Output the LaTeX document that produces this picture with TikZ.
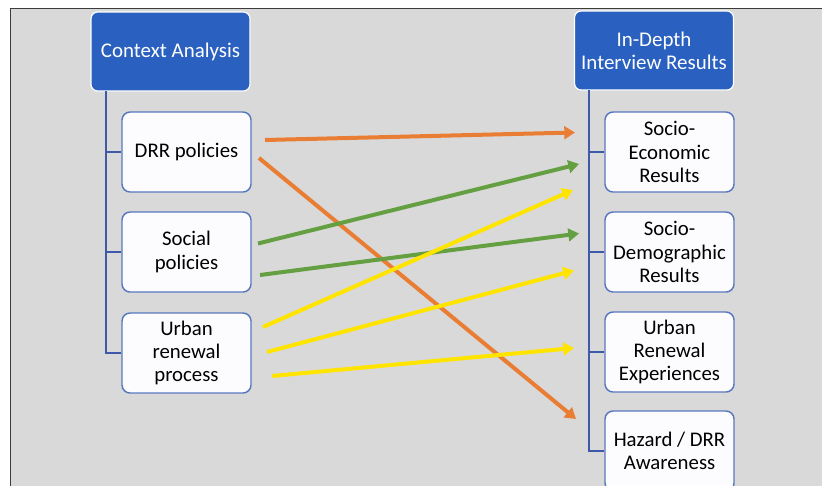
\documentclass[tikz,border=0pt]{standalone}
\usepackage{fontspec}
\setmainfont{Carlito}
\usetikzlibrary{arrows.meta}
\definecolor{bgray}{RGB}{217,217,217}
\definecolor{frame}{RGB}{60,60,60}
\definecolor{hblue}{RGB}{42,96,192}
\definecolor{bline}{RGB}{62,88,170}
\definecolor{bborder}{RGB}{88,120,190}
\definecolor{boxfill}{RGB}{252,252,254}
\definecolor{aorange}{RGB}{234,125,52}
\definecolor{agreen}{RGB}{100,160,66}
\definecolor{ayellow}{RGB}{255,228,0}
\tikzset{
  headbox/.style={draw=white, line width=0.9pt, fill=hblue, rounded corners=5pt,
    text=white, align=center, minimum width=119.25pt, minimum height=59.25pt,
    inner sep=1pt, font=\fontsize{15.7}{17.5}\selectfont},
  itembox/.style={draw=bborder, line width=1.1pt, fill=boxfill, rounded corners=6pt,
    text=black, align=center, minimum width=96.75pt, minimum height=60pt,
    inner sep=1pt, font=\fontsize{15.6}{17.5}\selectfont},
  tree/.style={draw=bline, line width=1.1pt},
  flow/.style={line width=3pt, -{Triangle[length=8pt,width=9.5pt]}},
}
\begin{document}
\begin{tikzpicture}[x=0.75pt,y=-0.75pt]
\useasboundingbox (0,0) rectangle (822,486);
\begin{scope}
\clip (0,0) rectangle (822,486);
\fill[white] (0,0) rectangle (822,486);
\fill[bgray] (10,8) rectangle (830,495);
\draw[frame, line width=1.2pt] (10.5,500) -- (10.5,8.6) -- (830,8.6);

% left column
\node[headbox] (ca) at (170.5,51.5) {Context Analysis};
\node[itembox] (drr) at (186.5,152) {DRR policies};
\node[itembox] (soc) at (186.5,252) {Social\\policies};
\node[itembox] (urp) at (186.5,353) {Urban\\renewal\\process};
\coordinate (lt) at (106,91);
\coordinate (lb) at (106,353);
\draw[tree] (lt) -- (lb) -- (urp.west);
\draw[tree] (106,152) -- (drr.west);
\draw[tree] (106,252) -- (soc.west);

% right column
\node[headbox] (idi) at (654,50.5) {In-Depth\\Interview Results};
\node[itembox] (se) at (669.5,152) {Socio-\\Economic\\Results};
\node[itembox] (sd) at (669.5,252) {Socio-\\Demographic\\Results};
\node[itembox] (ure) at (669.5,352) {Urban\\Renewal\\Experiences};
\node[itembox] (haz) at (669.5,451) {Hazard / DRR\\Awareness};
\coordinate (rt) at (589,90);
\coordinate (rb) at (589,451);
\draw[tree] (rt) -- (rb) -- (haz.west);
\draw[tree] (589,152) -- (se.west);
\draw[tree] (589,252) -- (sd.west);
\draw[tree] (589,352) -- (ure.west);

% arrow end points
\coordinate (o1s) at (265,140); \coordinate (o1e) at (575,132.5);
\coordinate (o2s) at (259,158); \coordinate (o2e) at (576,419);
\coordinate (g1s) at (258,243.5); \coordinate (g1e) at (579,164);
\coordinate (g2s) at (260,275); \coordinate (g2e) at (579,233.5);
\coordinate (y1s) at (263,327); \coordinate (y1e) at (573,190);
\coordinate (y2s) at (267,352); \coordinate (y2e) at (574,270.5);
\coordinate (y3s) at (272,376); \coordinate (y3e) at (574,348);

\draw[flow, aorange] (o1s) -- (o1e);
\draw[flow, aorange] (o2s) -- (o2e);
\draw[flow, agreen] (g1s) -- (g1e);
\draw[flow, agreen] (g2s) -- (g2e);
\draw[flow, ayellow] (y1s) -- (y1e);
\draw[flow, ayellow] (y2s) -- (y2e);
\draw[flow, ayellow] (y3s) -- (y3e);
\end{scope}
\end{tikzpicture}
\end{document}
